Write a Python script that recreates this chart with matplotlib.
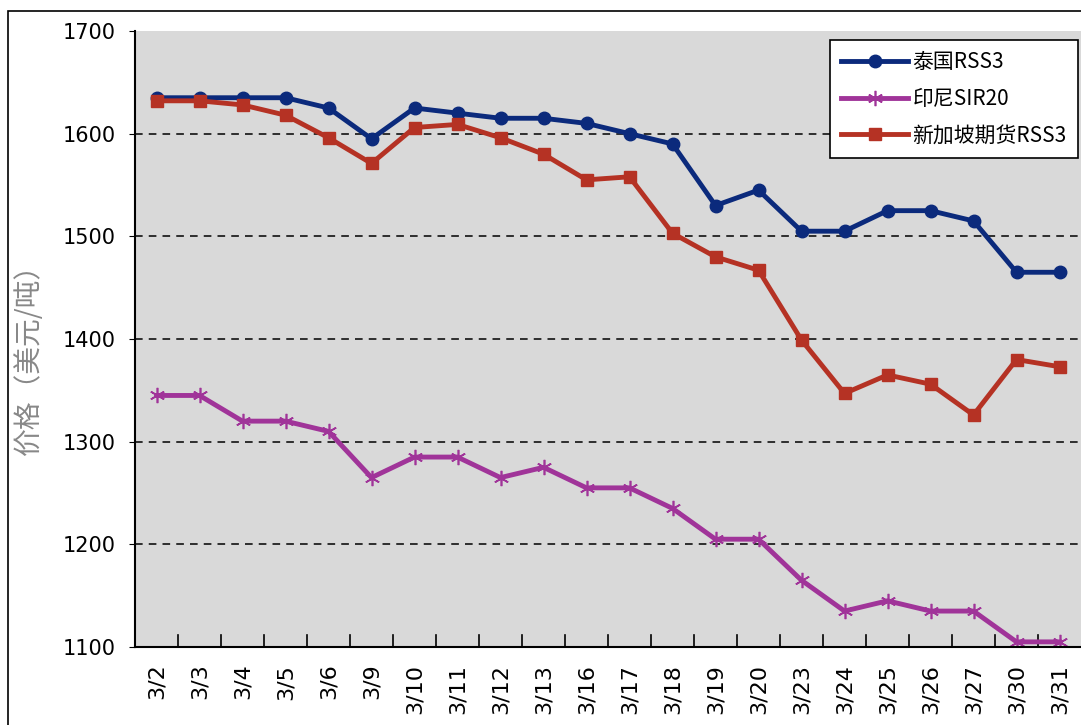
import matplotlib
matplotlib.use("Agg")
import matplotlib.pyplot as plt
from matplotlib.patches import Rectangle

plt.rcParams['font.family'] = ['Noto Sans CJK SC', 'DejaVu Sans']

# 日期
dates = ["3/2", "3/3", "3/4", "3/5", "3/6", "3/9", "3/10", "3/11", "3/12", "3/13", "3/16",
         "3/17", "3/18", "3/19", "3/20", "3/23", "3/24", "3/25", "3/26", "3/27", "3/30", "3/31"]
# 泰国RSS3
thai_rss3 = [1635, 1635, 1635, 1635, 1625, 1595, 1625, 1620, 1615, 1615, 1610,
             1600, 1590, 1530, 1545, 1505, 1505, 1525, 1525, 1515, 1465, 1465]
# 印尼SIR20
indo_sir20 = [1345, 1345, 1320, 1320, 1310, 1265, 1285, 1285, 1265, 1275, 1255,
              1255, 1235, 1205, 1205, 1165, 1135, 1145, 1135, 1135, 1105, 1105]
# 新加坡期货RSS3
sg_rss3 = [1632, 1632, 1628, 1618, 1596, 1571, 1606, 1609, 1596, 1580, 1555,
           1558, 1503, 1480, 1467, 1399, 1347, 1365, 1356, 1326, 1380, 1373]
y_ticks = [1100, 1200, 1300, 1400, 1500, 1600, 1700]

fig = plt.figure(figsize=(10.81, 7.25), dpi=100)
ax = fig.add_axes([135 / 1081, 1 - 647 / 725, 946 / 1081, 616 / 725])
ax.set_facecolor('#D9D9D9')

# 外框
fig.patches.append(Rectangle((8 / 1081, -0.1), 2, 1 - 11 / 725 + 0.1, transform=fig.transFigure,
                             fill=False, edgecolor='black', linewidth=1.2, zorder=0))

x = list(range(len(dates)))
ax.plot(x, thai_rss3, color='#0B2A7C', linewidth=3.5, marker='o', markersize=9, label='泰国RSS3')
ax.plot(x, indo_sir20, color='#A03499', linewidth=3.5, marker=(6, 2, 0), markersize=11,
        markeredgewidth=1.2, markeredgecolor='#A03499', label='印尼SIR20')
ax.plot(x, sg_rss3, color='#B53224', linewidth=3.5, marker='s', markersize=8, label='新加坡期货RSS3')

ax.set_xlim(-0.5, len(dates) - 0.5)
ax.set_ylim(1100, 1700)
ax.set_yticks(y_ticks)
ax.set_yticklabels([str(v) for v in y_ticks], fontsize=15, family='DejaVu Sans')
ax.set_xticks(x)
ax.set_xticklabels(dates, rotation=90, fontsize=16, family='DejaVu Sans')
ax.tick_params(axis='x', length=0, pad=12)
ax.tick_params(axis='y', length=4, direction='out', pad=10)

# 分类边界刻度
for k in range(1, len(dates)):
    ax.plot([k - 0.5, k - 0.5], [1100, 1100 + 600 * 12 / 616], color='black', linewidth=1.2,
            clip_on=False, zorder=1)

for v in y_ticks[1:-1]:
    ax.axhline(v, color='black', linestyle=(0, (5, 4)), linewidth=1.1, zorder=0.5)

for s in ['top', 'right']:
    ax.spines[s].set_visible(False)
for s in ['left', 'bottom']:
    ax.spines[s].set_linewidth(1.5)

ax.set_ylabel('价格（美元/吨）', fontsize=20, color='#888888')
ax.yaxis.set_label_coords((44 - 135) / 946, (647 - 352) / 616)

leg = ax.legend(loc='upper right', bbox_to_anchor=(1 - 3 / 946, 1 - 9 / 616), fontsize=15,
                frameon=True, fancybox=False, edgecolor='black', framealpha=1, handlelength=3.2,
                borderpad=0.55, labelspacing=0.7, handletextpad=0.2, borderaxespad=0)
leg.get_frame().set_linewidth(1.2)

fig.savefig('out.png', dpi=100)
